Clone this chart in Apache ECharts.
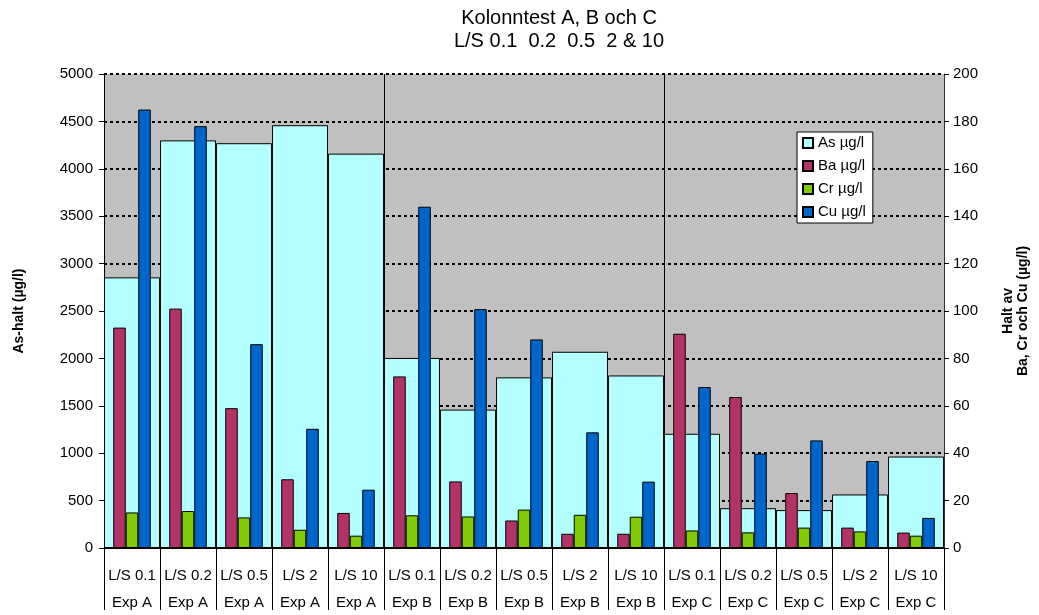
<!DOCTYPE html>
<html>
<head>
<meta charset="utf-8">
<script src="https://cdn.jsdelivr.net/npm/echarts@6/dist/echarts.min.js"></script>
<style>
  html, body { margin: 0; padding: 0; background: #fff; }
  #chart { width: 1039px; height: 615px; }
</style>
</head>
<body>
<div id="chart"></div>
<script>
// category labels (two rows under the axis)
const lsLabels = ['L/S 0.1', 'L/S 0.2', 'L/S 0.5', 'L/S 2', 'L/S 10',
                  'L/S 0.1', 'L/S 0.2', 'L/S 0.5', 'L/S 2', 'L/S 10',
                  'L/S 0.1', 'L/S 0.2', 'L/S 0.5', 'L/S 2', 'L/S 10'];
const expLabels = ['Exp A', 'Exp A', 'Exp A', 'Exp A', 'Exp A',
                   'Exp B', 'Exp B', 'Exp B', 'Exp B', 'Exp B',
                   'Exp C', 'Exp C', 'Exp C', 'Exp C', 'Exp C'];

// values in µg/l
const asValues = [2855, 4300, 4270, 4460, 4160, 2005, 1460, 1800, 2070, 1820, 1205, 420, 400, 565, 965];
const baValues = [93, 101, 59, 29, 14.8, 72.4, 28.1, 11.6, 6, 6, 90.4, 63.7, 23.2, 8.6, 6.5];
const crValues = [15, 15.6, 12.9, 7.7, 5.2, 13.8, 13.3, 16.2, 14, 13.2, 7.4, 6.6, 8.6, 7, 5.2];
const cuValues = [185, 178, 86, 50.3, 24.6, 144, 100.8, 88, 48.8, 28, 67.9, 39.8, 45.4, 36.7, 12.7];

const leftTicks = { min: 0, max: 5000, interval: 500 };
const rightTicks = { min: 0, max: 200, interval: 20 };

const categories = lsLabels.map((l, i) => l + '|' + expLabels[i]);

const font = 'Liberation Sans, Arial, sans-serif';
const chart = echarts.init(document.getElementById('chart'));

function barStyle(color) {
  return { color: color, borderColor: '#000', borderWidth: 1 };
}

chart.setOption({
  animation: false,
  textStyle: { fontFamily: font, color: '#000' },
  title: {
    text: 'Kolonntest A, B och C\nL/S 0.1  0.2  0.5  2 & 10',
    left: 554, top: 2, textAlign: 'center',
    textStyle: { fontFamily: font, fontSize: 20, fontWeight: 'normal', color: '#000', lineHeight: 23 }
  },
  legend: {
    orient: 'vertical', left: 797, top: 132,
    padding: [2, 7, 2, 5], itemGap: 5, itemWidth: 10, itemHeight: 10,
    backgroundColor: '#fff', borderColor: '#000', borderWidth: 1, borderRadius: 0,
    icon: 'rect',
    textStyle: { fontFamily: font, fontSize: 15, color: '#000', lineHeight: 18 },
    data: ['As µg/l', 'Ba µg/l', 'Cr µg/l', 'Cu µg/l']
  },
  grid: {
    left: 104, right: 95, top: 74, bottom: 67,
    containLabel: false, outerBoundsMode: 'none',
    show: true, backgroundColor: '#C0C0C0', borderWidth: 0
  },
  xAxis: [
    {
      type: 'category', data: categories, boundaryGap: true,
      axisLine: { lineStyle: { color: '#000', width: 1 } },
      axisTick: { show: true, interval: 0, length: 62, lineStyle: { color: '#000' } },
      axisLabel: {
        interval: 0, margin: 14, fontSize: 15, color: '#000', lineHeight: 27,
        formatter: v => v.split('|').join('\n')
      },
      splitLine: {
        show: true,
        interval: (i) => i === 5 || i === 10,
        lineStyle: { color: '#000', width: 1 }
      }
    },
    { type: 'category', data: categories, show: false }
  ],
  yAxis: [
    {
      type: 'value', position: 'left',
      min: leftTicks.min, max: leftTicks.max, interval: leftTicks.interval,
      name: 'As-halt (µg/l)', nameLocation: 'middle', nameGap: 78, nameRotate: 90,
      nameTextStyle: { fontFamily: font, fontSize: 14, fontWeight: 'bold', color: '#000' },
      axisLine: { show: true, lineStyle: { color: '#000' } },
      axisTick: { show: true, length: 5, lineStyle: { color: '#000' } },
      axisLabel: { margin: 11, fontSize: 15, color: '#000', formatter: v => String(v) },
      splitLine: { show: true, lineStyle: { color: '#000', width: 2, type: [3, 3] } }
    },
    {
      type: 'value', position: 'right',
      min: rightTicks.min, max: rightTicks.max, interval: rightTicks.interval,
      name: 'Halt av\nBa, Cr och Cu (µg/l)', nameLocation: 'middle', nameGap: 57, nameRotate: 90,
      nameTextStyle: { fontFamily: font, fontSize: 14, fontWeight: 'bold', color: '#000', lineHeight: 15 },
      axisLine: { show: true, lineStyle: { color: '#333' } },
      axisTick: { show: true, length: 5, lineStyle: { color: '#000' } },
      axisLabel: { margin: 9, fontSize: 15, color: '#000' },
      splitLine: { show: false }
    }
  ],
  series: [
    {
      name: 'As µg/l', type: 'bar', xAxisIndex: 0, yAxisIndex: 0,
      barCategoryGap: '0%', data: asValues, itemStyle: barStyle('#B3FFFF')
    },
    {
      name: 'Ba µg/l', type: 'bar', xAxisIndex: 1, yAxisIndex: 1,
      barCategoryGap: '33%', barGap: '0%', data: baValues, itemStyle: barStyle('#B33366')
    },
    {
      name: 'Cr µg/l', type: 'bar', xAxisIndex: 1, yAxisIndex: 1,
      barCategoryGap: '33%', barGap: '0%', data: crValues, itemStyle: barStyle('#80CC00')
    },
    {
      name: 'Cu µg/l', type: 'bar', xAxisIndex: 1, yAxisIndex: 1,
      barCategoryGap: '33%', barGap: '0%', data: cuValues, itemStyle: barStyle('#0066CC')
    }
  ]
});
</script>
</body>
</html>
